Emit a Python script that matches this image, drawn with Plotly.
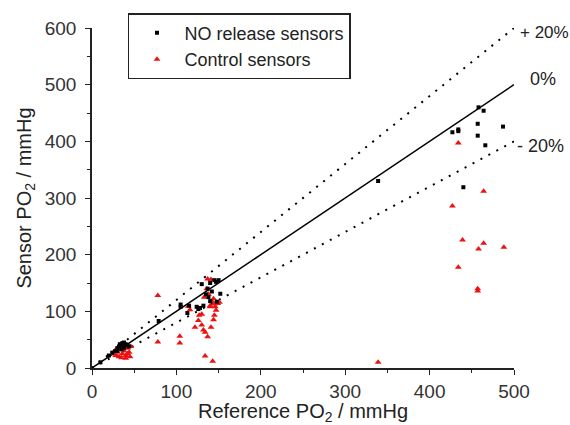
import plotly.graph_objects as go

# NO release sensors (reference, sensor)
no_x = [10, 20, 24, 28, 30, 32, 33, 35, 36, 38, 40, 42, 35, 38, 44, 30,
        79, 105, 105, 113, 115, 124, 126, 128, 130, 132, 135, 137, 138, 140, 142, 145, 147, 148, 152, 150, 140,
        339, 427, 434, 434, 457, 457, 458, 464, 466, 487, 440]
no_y = [10, 22, 27, 30, 35, 38, 42, 40, 44, 36, 42, 40, 33, 45, 38, 30,
        83, 112, 108, 97, 110, 108, 104, 106, 148, 110, 130, 140, 125, 150, 135, 155, 152, 117, 131, 155, 118,
        330, 416, 421, 418, 431, 410, 460, 454, 393, 426, 319]

# Control sensors
ctrl_x = [25, 28, 30, 32, 33, 35, 36, 38, 40, 42, 44, 46, 30, 35, 40, 45, 38, 27, 42,
          78, 78, 104, 104, 114, 116, 122, 126, 127, 130, 132, 134, 137, 134, 143, 141, 144, 145,
          140, 142, 144, 147, 149, 151, 137, 141, 145, 133, 138, 140, 146, 130, 136,
          339, 434, 464, 427, 439, 464, 458, 488, 434, 457, 457]
ctrl_y = [25, 22, 28, 20, 32, 18, 25, 30, 22, 35, 28, 38, 35, 40, 17, 20, 38, 30, 25,
          128, 46, 56, 44, 109, 103, 72, 84, 93, 76, 67, 63, 55, 21, 12, 72, 85, 93,
          108, 118, 122, 102, 114, 116, 157, 156, 113, 125, 130, 110, 108, 95, 140,
          10, 397, 312, 286, 226, 220, 210, 213, 178, 140, 136]

line_x = [0, 500]
ident_y = [0, 500]
plus_y = [0, 600]
minus_y = [0, 400]

fig = go.Figure()
fig.add_trace(go.Scatter(x=line_x, y=plus_y, mode="lines", showlegend=False,
                         line=dict(color="black", width=2, dash="2px,7px")))
fig.add_trace(go.Scatter(x=line_x, y=minus_y, mode="lines", showlegend=False,
                         line=dict(color="black", width=2, dash="2px,7px")))
fig.add_trace(go.Scatter(x=line_x, y=ident_y, mode="lines", showlegend=False,
                         line=dict(color="black", width=1.5)))
fig.add_trace(go.Scatter(x=ctrl_x, y=ctrl_y, mode="markers", name="Control sensors",
                         marker=dict(symbol="triangle-up", size=6, color="#ee1111"), cliponaxis=False))
fig.add_trace(go.Scatter(x=no_x, y=no_y, mode="markers", name="NO release sensors",
                         marker=dict(symbol="square", size=4, color="black"), cliponaxis=False))

font = "Liberation Sans, Arial, sans-serif"
axis_common = dict(showgrid=False, zeroline=False, showline=True, linecolor="#222", linewidth=1.5,
                   ticks="outside", ticklen=5, tickcolor="#222", dtick=100, tick0=0,
                   automargin=False,
                   tickfont=dict(size=19, color="#333"),
                   minor=dict(ticks="outside", ticklen=3, dtick=50, tickcolor="#222"))
fig.update_layout(
    width=570, height=425,
    margin=dict(l=92, r=56, t=28, b=57),
    paper_bgcolor="white", plot_bgcolor="white",
    font=dict(family=font, size=18, color="#222"),
    legend=dict(x=0.0853, y=1.044, xanchor="left", yanchor="top", traceorder="reversed",
                bgcolor="white", bordercolor="#222", borderwidth=1.5, itemwidth=45,
                font=dict(size=18, color="#222")),
    xaxis=dict(range=[0, 500], ticklabelstandoff=0, **axis_common,
               title=dict(text="Reference PO<sub>2</sub> / mmHg", font=dict(size=20), standoff=3)),
    yaxis=dict(range=[0, 600], ticklabelstandoff=5, **axis_common,
               title=dict(text="Sensor PO<sub>2</sub> / mmHg", font=dict(size=20), standoff=8)),
    annotations=[
        dict(xref="paper", yref="paper", x=1.01, y=0.988, text="+ 20%", showarrow=False,
             xanchor="left", yanchor="middle", font=dict(size=17, color="#222")),
        dict(xref="paper", yref="paper", x=1.033, y=0.85, text="0%", showarrow=False,
             xanchor="left", yanchor="middle", font=dict(size=18, color="#222")),
        dict(xref="paper", yref="paper", x=1.002, y=0.653, text="- 20%", showarrow=False,
             xanchor="left", yanchor="middle", font=dict(size=18, color="#222")),
    ],
)
fig.write_html("out.html", config={"displayModeBar": False},
               post_script="document.body.style.margin='0';")
